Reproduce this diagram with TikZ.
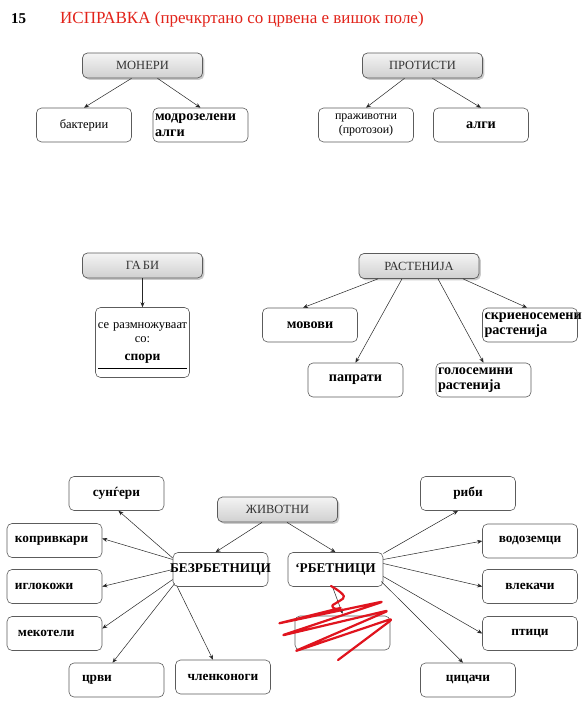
\documentclass[tikz,border=0pt]{standalone}
\usepackage{fontspec}
\setmainfont{Liberation Serif}
\usepackage{tikz}
\usetikzlibrary{arrows.meta, calc, shadows}
\definecolor{fixred}{HTML}{E2231A}
\definecolor{penred}{HTML}{E0141E}
\definecolor{boxline}{HTML}{5C5C5C}
\definecolor{catlight}{HTML}{F4F4F4}
\definecolor{catdark}{HTML}{D0D0D0}
\definecolor{cattext}{HTML}{333333}

\begin{document}
\begin{tikzpicture}[x=1pt, y=-1pt,
  cat/.style={draw=boxline, line width=0.7pt, rounded corners=5pt, top color=catlight, bottom color=catdark,
    minimum width=120pt, minimum height=25pt, inner sep=0pt, text=cattext,
    drop shadow={shadow xshift=1.8pt, shadow yshift=-1.8pt, fill=black!40}, font=\fontsize{12.5}{14}\selectfont},
  leaf/.style={draw=boxline, line width=0.6pt, rounded corners=5pt, fill=white, minimum height=34pt,
    inner xsep=2pt, inner ysep=1pt, text width=91pt, align=center, font=\bfseries\fontsize{14.2}{15.5}\selectfont},
  animal/.style={font=\bfseries\fontsize{13.3}{15}\selectfont},
  regtext/.style={font=\fontsize{12.5}{14}\selectfont},
  arr/.style={draw=black!85, line width=0.5pt, -{Stealth[length=5pt, width=4pt]}},
  scribble/.style={draw=penred, line width=2.2pt, line cap=round, line join=round, rounded corners=6pt}]
\useasboundingbox (0,0) rectangle (587,702);
\fill[white] (0,0) rectangle (587,702);

% heading
\node[anchor=base west, inner sep=0pt, font=\bfseries\fontsize{15}{17}\selectfont] (num) at (11,23) {15};
\node[anchor=base west, inner sep=0pt, text=fixred, font=\fontsize{17}{20}\selectfont] (title) at (60,23)
  {ИСПРАВКА (пречкртано со црвена е вишок поле)};

% monera and protista
\node[cat] (mon) at (142.5,65.5) {МОНЕРИ};
\node[cat] (pro) at (422.5,65.5) {ПРОТИСТИ};
\node[leaf, regtext] (bak) at (84,125) {бактерии};
\node[leaf, align=left] (mod) at (200.5,125) {модрозелени\\алги};
\node[leaf, font=\fontsize{12}{13.5}\selectfont] (pra) at (366,125) {праживотни\\(протозои)};
\node[leaf] (alg) at (481,125) {алги};
\draw[arr] ($(mon.south)+(-11,0)$) -- (bak.north);
\draw[arr] ($(mon.south)+(15,0)$) -- (mod.north);
\draw[arr] ($(pro.south)+(-18,0)$) -- (pra.north);
\draw[arr] ($(pro.south)+(10,0)$) -- (alg.north);

% fungi and plants
\node[cat] (gab) at (142.5,265.5) {ГА\kern2pt БИ};
\node[leaf, regtext, minimum height=70pt, text width=90pt] (rep) at (142.5,342.5)
  {се размножуваат\\со:\\[4pt]{\bfseries\fontsize{13.5}{15}\selectfont спори}};
\draw[line width=0.8pt] ($(rep.south west)+(3,-9)$) -- ($(rep.south east)+(-3,-9)$);
\draw[arr] (gab.south) -- (rep.north);

\node[cat] (ras) at (419,266) {РАСТЕНИЈА};
\node[leaf] (mov) at (310,325) {мовови};
\node[leaf] (pap) at (355.5,380) {папрати};
\node[leaf, align=left] (gol) at (483.5,380) {голосемини\\растенија};
\node[leaf, align=left] (skr) at (530,325) {скриеносемени\\растенија};
\draw[arr] ($(ras.south)+(-41,0)$) -- ($(mov.north)+(-7,0)$);
\draw[arr] ($(ras.south)+(-17,0)$) -- (pap.north);
\draw[arr] ($(ras.south)+(19,0)$) -- (gol.north);
\draw[arr] ($(ras.south)+(44,0)$) -- ($(skr.north)+(-3,0)$);

% animals
\node[cat] (ziv) at (277.5,509.5) {ЖИВОТНИ};
\node[leaf, animal] (bez) at (220.5,569.5) {\makebox[\linewidth]{БЕЗРБЕТНИЦИ}};
\node[leaf, animal] (rbe) at (335.5,569.5) {`РБЕТНИЦИ};
\node[leaf] (del) at (342.5,633) {};
\draw[arr] ($(ziv.south)+(-15.5,0)$) -- ($(bez.north)+(-5,0)$);
\draw[arr] ($(ziv.south)+(9.5,0)$) -- (rbe.north);

\node[leaf, animal] (sun) at (116.5,493.5) {сунѓери};
\node[leaf, animal, align=left] (kop) at (54.5,540.5) {\hspace*{6pt}копривкари};
\node[leaf, animal, align=left] (igl) at (54.5,586.5) {\hspace*{6pt}иглокожи};
\node[leaf, animal, align=left] (mek) at (54.5,633.5) {\hspace*{9pt}мекотели};
\node[leaf, animal, align=left] (crv) at (116.5,680) {\hspace*{11pt}црви};
\node[leaf, animal] (chl) at (223,677) {членконоги};
\draw[arr] ($(bez.west)+(0,-11.5)$) -- ($(sun.south)+(2,0)$);
\draw[arr] ($(bez.west)+(0,-10)$) -- ($(kop.east)+(0,-2)$);
\draw[arr] (bez.west) -- (igl.east);
\draw[arr] ($(bez.west)+(0,10)$) -- ($(mek.east)+(0,-5)$);
\draw[arr] ($(bez.west)+(2,14)$) -- ($(crv.north)+(-4,0)$);
\draw[arr] ($(bez.west)+(4,16)$) -- ($(chl.north)+(-10,0)$);

\node[leaf, animal] (rib) at (468,493.5) {риби};
\node[leaf, animal] (vod) at (530,541) {водоземци};
\node[leaf, animal] (vle) at (530,586.5) {влекачи};
\node[leaf, animal] (pti) at (530,633.5) {птици};
\node[leaf, animal] (cic) at (468,680) {цицачи};
\draw[arr] ($(rbe.east)+(0,-16)$) -- ($(rib.south)+(-10,0)$);
\draw[arr] ($(rbe.east)+(0,-10)$) -- (vod.west);
\draw[arr] ($(rbe.east)+(0,-6)$) -- (vle.west);
\draw[arr] ($(rbe.east)+(0,7)$) -- (pti.west);
\draw[arr] ($(rbe.east)+(-2,12)$) -- ($(cic.north)+(-5,0)$);
\draw[arr] ($(rbe.south)+(-3,0)$) -- ($(del.north)+(0,-2)$);

% red crossing-out
\draw[scribble] (331,586) .. controls (338,590) and (347,596) .. (338,602)
  .. controls (331,606) and (334,610) .. (344,607)
  -- (276,624) -- (385,601) -- (280,636) -- (390,610) -- (293,652) -- (394,618) -- (338,660);
\end{tikzpicture}
\end{document}
